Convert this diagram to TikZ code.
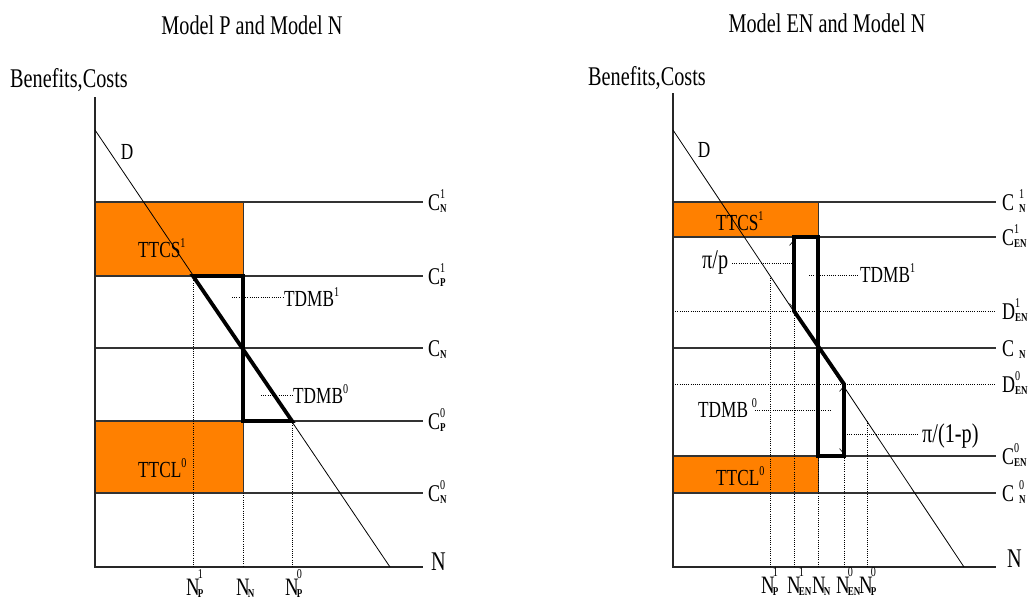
\documentclass[tikz,border=0pt]{standalone}
\usepackage{fontspec}
\setmainfont{Liberation Serif}[FakeStretch=0.75]
\usetikzlibrary{arrows.meta}
\definecolor{orng}{RGB}{255,128,0}
\newcommand{\supf}{\fontsize{13.5}{13.5}\selectfont}
\newcommand{\subf}{\fontsize{12}{12}\selectfont\bfseries}
\newcommand{\lbl}[4][0pt]{#2\kern#1\rlap{\raisebox{12pt}{\supf #3}}\raisebox{-2pt}{\subf #4}}
\newcommand{\nlbl}[2]{N\rlap{\raisebox{17pt}{\kern-2pt\supf #1}}\rlap{\raisebox{-2pt}{\kern-2pt\subf #2}}}
\tikzset{
  axisln/.style={line width=1.3pt, black!85},
  hln/.style={line width=1.3pt, black!80},
  dln/.style={line width=0.9pt, dash pattern=on 1pt off 1.2pt},
  dem/.style={line width=0.8pt},
  heavy/.style={line width=3.8pt, line join=miter},
  obox/.style={fill=orng, draw=black!80, line width=1pt},
  ttl/.style={inner sep=0, font=\fontsize{27}{27}\selectfont},
  lab/.style={inner sep=0, anchor=base west, font=\fontsize{23}{23}\selectfont},
  clab/.style={inner sep=0, anchor=base west, font=\fontsize{24}{24}\selectfont},
  nlab/.style={inner sep=0, anchor=base, font=\fontsize{25}{25}\selectfont},
  tip/.style={line width=0.6pt, {Straight Barb[length=3pt,width=5pt]}-{Straight Barb[length=3pt,width=5pt]}}
}
\begin{document}
\begin{tikzpicture}[x=1pt,y=-1pt]
\useasboundingbox (0,0) rectangle (1034,603);
% ================= LEFT PANEL =================
\node[ttl] (t1) at (252,25) {Model P and Model N};
\node[ttl, anchor=west] (y1) at (10,80) {Benefits,Costs};
\draw[obox] (95,202) rectangle (243,276);
\draw[obox] (95,421) rectangle (243,493);
\foreach \yy in {202,276,348,421,493} \draw[hln] (95,\yy) -- (423,\yy);
\draw[axisln] (95,97) -- (95,567) -- (423,567);
\coordinate (Da) at (95,130);
\coordinate (Db) at (390,567);
\draw[dem] (Da) -- (Db);
\coordinate (A1) at (193,276);
\coordinate (A2) at (243,276);
\coordinate (A3) at (243,421);
\coordinate (A4) at (292,421);
\draw[dln] (A1) -- (193,567);
\draw[dln] (243,493) -- (243,567);
\draw[dln] (A4) -- (292,567);
\draw[heavy] (A1) -- (A2) -- (A3) -- (A4) -- cycle;
\node[lab] (ttcs1) at (138,257) {TTCS\raisebox{10pt}{\supf 1}};
\node[lab] (ttcl1) at (138,477) {TTCL\raisebox{10pt}{\supf 0}};
\node[lab] (tdmb1a) at (284,306) {TDMB\raisebox{10pt}{\supf 1}};
\draw[dln] (232,297) -- (283,297);
\node[lab] (tdmb0a) at (293,403) {TDMB\raisebox{10pt}{\supf 0}};
\draw[dln] (261,395) -- (292,395);
\node[lab, anchor=center] (dl1) at (127,152) {D};
\node[clab] (l1) at (428,210) {\lbl{C}{1}{N}};
\node[clab] (l2) at (428,284) {\lbl{C}{1}{P}};
\node[clab] (l3) at (428,356) {\lbl{C}{}{N}};
\node[clab] (l4) at (428,429) {\lbl{C}{0}{P}};
\node[clab] (l5) at (428,501) {\lbl{C}{0}{N}};
\node[clab, font=\fontsize{27}{27}\selectfont] (nx1) at (431,570) {N};
\node[nlab] (b1) at (193,595) {\nlbl{1}{P}};
\node[nlab] (b2) at (243,595) {\nlbl{}{N}};
\node[nlab] (b3) at (292,595) {\nlbl{0}{P}};
% ================= RIGHT PANEL =================
\node[ttl] (t2) at (827,23) {Model EN and Model N};
\node[ttl, anchor=west] (y2) at (588,78) {Benefits,Costs};
\draw[obox] (673,202) rectangle (818,237);
\draw[obox] (673,456) rectangle (818,493);
\foreach \yy in {202,237,348,456,493} \draw[hln] (673,\yy) -- (996,\yy);
\foreach \yy in {311,384} \draw[dln] (673,\yy) -- (996,\yy);
\draw[axisln] (673,93) -- (673,567) -- (996,567);
\coordinate (Ea) at (673,130);
\coordinate (Eb) at (964,567);
\draw[dem] (Ea) -- (Eb);
\coordinate (B1) at (794,311);
\coordinate (B2) at (794,237);
\coordinate (B3) at (818,237);
\coordinate (B4) at (818,456);
\coordinate (B5) at (844,456);
\coordinate (B6) at (844,384);
\draw[dln] (770,276) -- (770,567);
\draw[dln] (B1) -- (794,567);
\draw[dln] (B4) -- (818,567);
\draw[dln] (B5) -- (844,567);
\draw[dln] (867,421) -- (867,567);
\draw[heavy] (B1) -- (B2) -- (B3) -- (B4) -- (B5) -- (B6) -- cycle;
\draw[tip] (792,242) -- (792,307);
\draw[tip] (842,388) -- (842,452);
\node[lab] (ttcs2) at (716,230) {TTCS\raisebox{10pt}{\supf 1}};
\node[lab] (ttcl2) at (716,485) {TTCL\raisebox{10pt}{\supf 0}};
\node[lab, font=\fontsize{27}{27}\selectfont] (pip) at (702,268) {π/p};
\draw[dln] (732,263) -- (792,263);
\node[lab] (tdmb1b) at (860,282) {TDMB\raisebox{10pt}{\supf 1}};
\draw[dln] (809,275) -- (858,275);
\node[lab] (tdmb0b) at (698,417) {TDMB\,\raisebox{10pt}{\supf 0}};
\draw[dln] (755,410) -- (831,410);
\node[lab, font=\fontsize{27}{27}\selectfont] (pi1p) at (922,442) {π/(1-p)};
\draw[dln] (847,434) -- (918,434);
\node[lab, anchor=center] (dl2) at (704,150) {D};
\node[clab] (r1) at (1002,210) {\lbl[5pt]{C}{1}{N}};
\node[clab] (r2) at (1002,245) {\lbl{C}{1}{EN}};
\node[clab] (r3) at (1002,319) {\lbl{D}{1}{EN}};
\node[clab] (r4) at (1002,356) {\lbl[5pt]{C}{}{N}};
\node[clab] (r5) at (1002,392) {\lbl{D}{0}{EN}};
\node[clab] (r6) at (1002,464) {\lbl{C}{0}{EN}};
\node[clab] (r7) at (1002,501) {\lbl[5pt]{C}{0}{N}};
\node[clab, font=\fontsize{27}{27}\selectfont] (nx2) at (1007,567) {N};
\node[nlab] (c1) at (768,593) {\nlbl{1}{P}};
\node[nlab] (c2) at (794,593) {\nlbl{1}{EN}};
\node[nlab] (c3) at (819,593) {\nlbl{}{N}};
\node[nlab] (c4) at (843,593) {\nlbl{0}{EN}};
\node[nlab] (c5) at (866,593) {\nlbl{0}{P}};
\end{tikzpicture}
\end{document}
